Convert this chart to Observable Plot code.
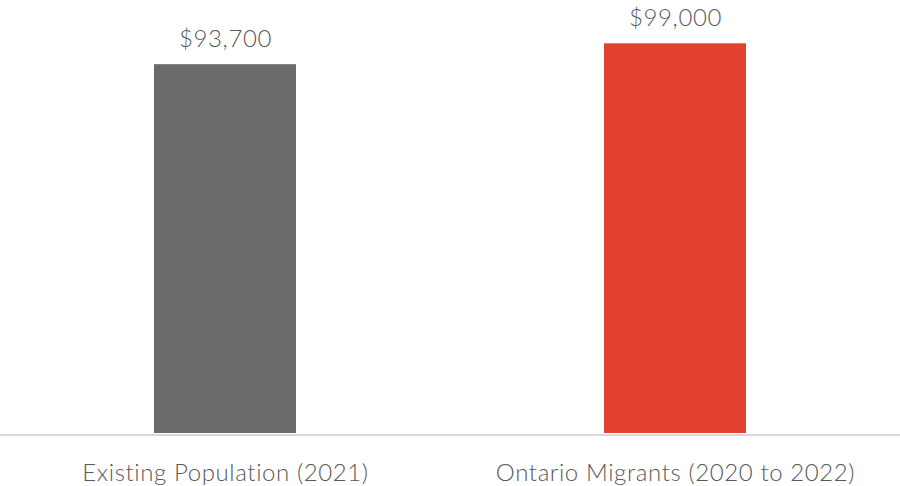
<!DOCTYPE html>
<html>
<head>
<meta charset="utf-8">
<script src="https://cdn.jsdelivr.net/npm/d3@7"></script>
<script src="https://cdn.jsdelivr.net/npm/@observablehq/plot@0.6"></script>
<style>
  html, body { margin: 0; padding: 0; background: #fff; }
  #chart svg { display: block; }
  #chart svg text { letter-spacing: 0.6px; }
</style>
</head>
<body>
<div id="chart"></div>
<script>
const categories = ["Existing Population (2021)", "Ontario Migrants (2020 to 2022)"];
const values = [93700, 99000];
const labels = ["$93,700", "$99,000"];
const colors = ["#6b6b6b", "#e34232"];

const data = categories.map((c, i) => ({category: c, value: values[i], label: labels[i], color: colors[i]}));

const chart = Plot.plot({
  width: 900,
  height: 486,
  marginTop: 0,
  marginBottom: 53,
  marginLeft: 0,
  marginRight: 0,
  style: {fontFamily: "Lato, sans-serif", fontWeight: 300, fontSize: "24px", color: "#595959", background: "#fff"},
  x: {domain: categories, paddingInner: 0.684, paddingOuter: 0.342, label: null},
  y: {domain: [0, 110000], axis: null},
  marks: [
    Plot.barY(data, {x: "category", y: "value", fill: "color"}),
    Plot.ruleY([0], {stroke: "#d9d9d9", strokeWidth: 2, dy: 1.5}),
    Plot.text(data, {x: "category", y: "value", text: "label", dy: -25, fill: "#595959", fontSize: 24, fontWeight: 300}),
    Plot.axisX({tickSize: 0, tickPadding: 30, fontSize: 24, fontWeight: 300, fill: "#595959", label: null})
  ]
});
document.getElementById("chart").append(chart);
</script>
</body>
</html>
